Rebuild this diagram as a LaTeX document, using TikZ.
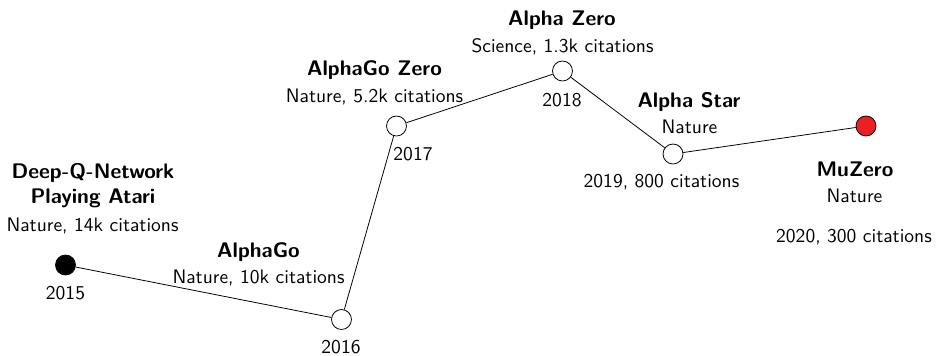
\documentclass[tikz,border=0pt]{standalone}
\definecolor{muzero}{RGB}{236,30,38}
\begin{document}
\begin{tikzpicture}[font=\sffamily,
	meilenstein/.style={circle,draw,fill=white,minimum size=0.36cm,inner sep=0pt},
	zeile/.style={anchor=base,inner sep=0pt},
	titel/.style={zeile,font=\sffamily\bfseries\fontsize{10.8}{13}\selectfont}]
\def\ds{0.018}
\def\punkt#1#2{({(#1)*\ds},{-(#2)*\ds})}
\useasboundingbox \punkt{0}{0} rectangle \punkt{943}{355};
% Meilensteine
\node[meilenstein,fill=black] (dqn) at \punkt{65.5}{265} {};
\node[meilenstein] (ag) at \punkt{341.5}{319.5} {};
\node[meilenstein] (agz) at \punkt{396.5}{126} {};
\node[meilenstein] (az) at \punkt{562.5}{71} {};
\node[meilenstein] (as) at \punkt{673}{154} {};
\node[meilenstein,fill=muzero] (mz) at \punkt{866}{126} {};
\draw (dqn) -- (ag) -- (agz) -- (az) -- (as) -- (mz);
% Beschriftungen
\node[titel] (dqn-t1) at \punkt{93}{178} {Deep-Q-Network};
\node[titel] (dqn-t2) at \punkt{93}{203} {Playing Atari};
\node[zeile] (dqn-z) at \punkt{92.5}{231} {Nature, 14k citations};
\node[zeile] (dqn-j) at \punkt{65.5}{299} {2015};
\node[titel] (ag-t) at \punkt{258.5}{257} {AlphaGo};
\node[zeile] (ag-z) at \punkt{258.5}{283} {Nature, 10k citations};
\node[zeile] (ag-j) at \punkt{341}{353} {2016};
\node[titel] (agz-t) at \punkt{374.5}{75} {AlphaGo Zero};
\node[zeile] (agz-z) at \punkt{374.5}{102} {Nature, 5.2k citations};
\node[zeile] (agz-j) at \punkt{413}{160} {2017};
\node[titel] (az-t) at \punkt{562}{25} {Alpha Zero};
\node[zeile] (az-z) at \punkt{562.5}{52} {Science, 1.3k citations};
\node[zeile] (az-j) at \punkt{562}{106} {2018};
\node[titel] (as-t) at \punkt{689}{107} {Alpha Star};
\node[zeile] (as-z) at \punkt{689.5}{133} {Nature};
\node[zeile] (as-j) at \punkt{661.5}{187} {2019, 800 citations};
\node[titel] (mz-t) at \punkt{855}{176} {MuZero};
\node[zeile] (mz-z) at \punkt{854.5}{202} {Nature};
\node[zeile] (mz-j) at \punkt{854}{242} {2020, 300 citations};
\end{tikzpicture}
\end{document}
